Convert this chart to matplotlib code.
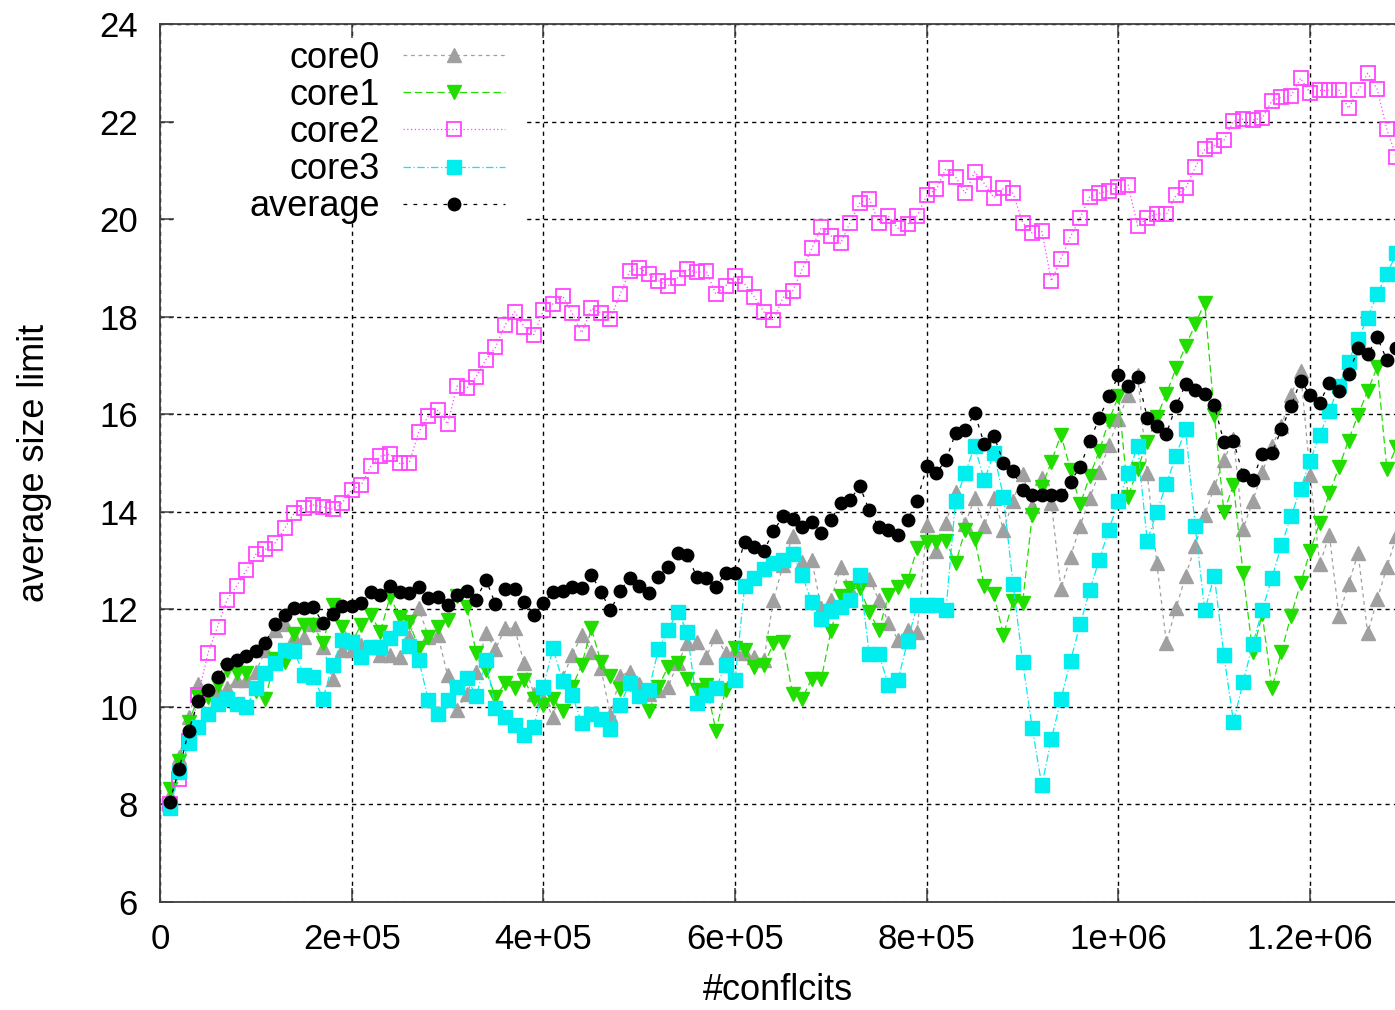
import numpy as np
import matplotlib
matplotlib.use("Agg")
import matplotlib.pyplot as plt
from matplotlib.patches import Rectangle

plt.rcParams['font.family'] = ['Liberation Sans', 'DejaVu Sans']

# conflicts, sampled every 10000
conflicts = np.arange(10000, 1290001, 10000)

core0 = [8.2, 8.98, 9.8, 10.47, 10.31, 10.33, 10.38, 10.55, 10.55, 10.72,
         11.16, 11.57, 11.70, 11.44, 11.44, 11.7, 11.23, 10.58, 11.16, 11.16,
         11.27, 11.23, 11.06, 11.06, 11.03, 11.44, 12.02, 11.44, 11.47, 10.65,
         9.93, 10.27, 10.72, 11.52, 11.18, 11.61, 11.61, 10.89, 10.27, 10.17,
         9.80, 10.6, 11.06, 11.47, 11.13, 10.79, 9.83, 10.63, 10.72, 10.47,
         10.27, 10.35, 10.41, 10.89, 11.30, 11.33, 11.03, 11.45, 11.10, 11.16,
         11.10, 11.03, 10.96, 12.19, 12.9, 13.50, 12.97, 13.01, 12.02, 12.19,
         12.86, 12.41, 12.66, 12.63, 12.19, 11.73, 11.37, 11.57, 11.54, 13.73,
         13.19, 13.78, 14.40, 13.74, 14.29, 13.71, 14.29, 13.63, 14.22, 14.77,
         14.11, 14.70, 14.18, 12.42, 13.08, 13.71, 14.28, 14.81, 15.36, 15.91,
         16.39, 16.80, 14.79, 12.94, 11.32, 12.02, 12.68, 13.30, 13.93, 14.51,
         15.06, 15.50, 13.65, 14.22, 14.81, 15.34, 15.76, 16.39, 16.88, 14.75,
         12.92, 13.53, 11.86, 12.52, 13.15, 11.51, 12.21, 12.86, 13.50]

core1 = [8.31, 8.9, 9.69, 10.2, 10.2, 10.45, 10.75, 10.70, 10.70, 10.33,
         10.17, 10.98, 10.92, 11.50, 11.68, 11.68, 11.30, 12.09, 11.64, 11.33,
         11.68, 11.88, 11.54, 12.26, 11.85, 11.74, 11.20, 11.44, 11.64, 11.78,
         12.28, 12.05, 11.10, 10.75, 10.21, 10.48, 10.38, 10.55, 10.17, 10.04,
         10.17, 9.92, 10.41, 10.86, 11.61, 10.92, 10.63, 10.36, 10.47, 10.23,
         9.92, 10.41, 10.82, 10.89, 10.58, 10.34, 10.45, 9.51, 10.34, 11.20,
         11.16, 10.82, 10.86, 11.30, 11.33, 10.27, 10.17, 10.58, 10.58, 11.56,
         12.27, 12.43, 12.43, 11.95, 11.57, 12.29, 12.46, 12.59, 13.25, 13.38,
         13.38, 13.41, 12.94, 13.62, 13.45, 12.47, 12.31, 11.47, 12.17, 12.13,
         13.94, 14.51, 15.03, 15.58, 14.86, 14.15, 14.73, 15.25, 15.87, 16.37,
         14.31, 14.88, 15.43, 15.94, 16.42, 16.94, 17.39, 17.84, 18.29, 15.98,
         14.00, 14.55, 12.74, 11.12, 11.9, 10.38, 11.13, 11.87, 12.53, 13.20,
         13.78, 14.38, 14.91, 15.46, 15.99, 16.48, 16.97, 14.87, 15.33]

core2 = [8.0, 8.52, 9.3, 10.25, 11.10, 11.64, 12.20, 12.48, 12.80, 13.13,
         13.23, 13.36, 13.66, 13.97, 14.07, 14.14, 14.10, 14.05, 14.18, 14.45,
         14.55, 14.94, 15.14, 15.18, 14.99, 15.00, 15.64, 15.96, 16.08, 15.80,
         16.58, 16.53, 16.77, 17.12, 17.37, 17.83, 18.10, 17.79, 17.63, 18.13,
         18.26, 18.43, 18.07, 17.67, 18.17, 18.08, 17.96, 18.46, 18.93, 19.00,
         18.87, 18.74, 18.63, 18.80, 18.97, 18.91, 18.93, 18.46, 18.63, 18.84,
         18.67, 18.41, 18.10, 17.93, 18.39, 18.53, 18.97, 19.40, 19.83, 19.66,
         19.50, 19.93, 20.33, 20.42, 19.93, 20.06, 19.81, 19.90, 20.07, 20.49,
         20.61, 21.04, 20.87, 20.53, 20.97, 20.73, 20.44, 20.63, 20.53, 19.93,
         19.71, 19.76, 18.73, 19.19, 19.64, 20.03, 20.46, 20.53, 20.58, 20.66,
         20.70, 19.86, 20.03, 20.10, 20.10, 20.49, 20.63, 21.06, 21.43, 21.50,
         21.62, 22.01, 22.05, 22.03, 22.07, 22.43, 22.50, 22.53, 22.89, 22.58,
         22.64, 22.64, 22.65, 22.27, 22.64, 22.99, 22.66, 21.84, 21.27]

core3 = [7.92, 8.67, 9.25, 9.58, 9.86, 10.06, 10.17, 10.06, 10.00, 10.38,
         10.70, 10.89, 11.16, 11.15, 10.65, 10.62, 10.17, 10.86, 11.37, 11.33,
         11.03, 11.23, 11.23, 11.42, 11.61, 11.25, 10.96, 10.14, 9.86, 10.15,
         10.41, 10.60, 10.22, 10.97, 9.97, 9.80, 9.63, 9.42, 9.58, 10.41,
         11.20, 10.53, 10.24, 9.67, 9.86, 9.76, 9.54, 10.04, 10.48, 10.22,
         10.34, 11.18, 11.57, 11.95, 11.54, 10.08, 10.24, 10.38, 10.86, 10.55,
         12.48, 12.65, 12.82, 12.94, 13.02, 13.13, 12.70, 12.15, 11.81, 11.97,
         12.05, 12.19, 12.70, 11.08, 11.08, 10.45, 10.55, 11.35, 12.09, 12.09,
         12.08, 11.98, 14.23, 14.79, 15.34, 14.65, 15.20, 14.31, 12.51, 10.93,
         9.57, 8.39, 9.34, 10.16, 10.95, 11.69, 12.39, 13.02, 13.63, 14.22,
         14.79, 15.34, 13.40, 14.00, 14.57, 15.15, 15.69, 13.71, 11.98, 12.68,
         11.06, 9.69, 10.51, 11.28, 11.98, 12.64, 13.31, 13.91, 14.47, 15.05,
         15.57, 16.07, 16.57, 17.08, 17.55, 17.98, 18.47, 18.87, 19.30]

average = [8.05, 8.73, 9.51, 10.13, 10.35, 10.62, 10.88, 10.96, 11.05, 11.14,
           11.32, 11.70, 11.88, 12.02, 12.03, 12.05, 11.71, 11.90, 12.07, 12.07,
           12.12, 12.36, 12.29, 12.48, 12.36, 12.33, 12.46, 12.24, 12.26, 12.09,
           12.30, 12.37, 12.20, 12.61, 12.11, 12.41, 12.41, 12.15, 11.89, 12.13,
           12.36, 12.37, 12.45, 12.43, 12.71, 12.36, 11.98, 12.37, 12.65, 12.48,
           12.34, 12.67, 12.87, 13.15, 13.11, 12.67, 12.65, 12.46, 12.74, 12.74,
           13.38, 13.27, 13.20, 13.60, 13.91, 13.86, 13.69, 13.79, 13.57, 13.84,
           14.17, 14.24, 14.53, 14.03, 13.69, 13.62, 13.52, 13.83, 14.23, 14.93,
           14.80, 15.06, 15.61, 15.67, 16.02, 15.39, 15.56, 15.01, 14.84, 14.44,
           14.35, 14.34, 14.34, 14.34, 14.62, 14.92, 15.45, 15.92, 16.37, 16.80,
           16.57, 16.77, 15.93, 15.75, 15.60, 16.17, 16.61, 16.50, 16.41, 16.18,
           15.43, 15.45, 14.75, 14.66, 15.19, 15.20, 15.69, 16.17, 16.68, 16.39,
           16.23, 16.65, 16.48, 16.82, 17.35, 17.23, 17.58, 17.11, 17.35]

xticks = [0, 200000, 400000, 600000, 800000, 1000000, 1200000]
xtick_labels = ['0', '2e+05', '4e+05', '6e+05', '8e+05', '1e+06', '1.2e+06']
yticks = [6, 8, 10, 12, 14, 16, 18, 20, 22, 24]

fig = plt.figure(figsize=(13.95, 10.10), dpi=100)
ax = fig.add_axes([160 / 1395, 108 / 1010, 1235 / 1395, 878 / 1010])

ax.plot(conflicts, core0, color='#a0a0a0', lw=0.9, dashes=(3, 3),
        marker='^', ms=9.5, mec='#a0a0a0', mfc='#a0a0a0', label='core0', zorder=3)
ax.plot(conflicts, core1, color='#22dd00', lw=0.9, dashes=(6, 3),
        marker='v', ms=9.5, mec='#22dd00', mfc='#22dd00', label='core1', zorder=4)
ax.plot(conflicts, core2, color='#ff44ff', lw=0.9, dashes=(1, 2),
        marker='s', ms=9.5, mec='#ff44ff', mfc='none', mew=1.3, label='core2', zorder=5)
ax.plot(conflicts, core3, color='#00eeee', lw=0.9, dashes=(6, 2, 1, 2),
        marker='s', ms=9.5, mec='#00eeee', mfc='#00eeee', label='core3', zorder=6)
ax.plot(conflicts, average, color='black', lw=0.9, dashes=(3, 5),
        marker='o', ms=9, mec='black', mfc='black', label='average', zorder=7)

ax.set_xlim(0, 1288500)
ax.set_ylim(6, 24)
ax.set_xticks(xticks)
ax.set_xticklabels(xtick_labels)
ax.set_yticks(yticks)

ax.grid(True, color='black', lw=1.0, dashes=(3, 3))
ax.set_axisbelow(True)

for side in ['left', 'bottom', 'top']:
    ax.spines[side].set_color('#404040')
    ax.spines[side].set_linewidth(1.3)
ax.spines['right'].set_visible(False)
ax.tick_params(direction='in', length=10, width=1.1, color='#404040',
               top=True, right=False, labelsize=25)
ax.tick_params(axis='y', pad=16)
ax.tick_params(axis='x', pad=15)

ax.set_xlabel('#conflcits', fontsize=26, labelpad=12)
ax.set_ylabel('average size limit', fontsize=26, labelpad=34)

# white key area like gnuplot's opaque key
ax.add_patch(Rectangle((0.012, 0.7745), 0.2835, 0.21, transform=ax.transAxes,
                       facecolor='white', edgecolor='none', zorder=1))

ax.legend(loc='upper right', bbox_to_anchor=(0.2794, 0.981), markerfirst=False,
          frameon=False, fontsize=26, handlelength=2.83, handletextpad=0.64,
          labelspacing=0.06, borderpad=0, borderaxespad=0)

fig.savefig('out.png', dpi=100)
